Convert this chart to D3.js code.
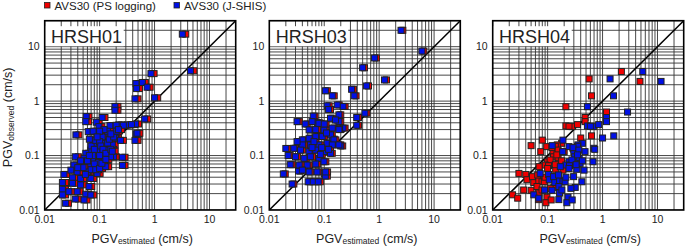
<!DOCTYPE html>
<html><head><meta charset="utf-8">
<script src="https://cdn.jsdelivr.net/npm/d3@7"></script>
<style>
html,body{margin:0;padding:0;background:#fff;}
svg{display:block;font-family:"Liberation Sans",Arial,Helvetica,sans-serif;}
</style></head>
<body>
<svg id="chart" width="685" height="246"></svg>
<script>
// ---- data ----
const stations = ["HRSH01", "HRSH03", "HRSH04"];
const seriesNames = ["AVS30 (PS logging)", "AVS30 (J-SHIS)"];
const seriesColors = ["#f00000", "#0010e6"];
const tickValues = [0.01, 0.1, 1, 10];
const tickLabels = ["0.01", "0.1", "1", "10"];
const axisDomain = [0.01, 30];

// rows: [PGV observed, PGV estimated (PS logging), PGV estimated (J-SHIS)]
const hrsh01 = [
[17,3.7,3.2],[3.6,5.2,4.5],[3.2,0.98,0.86],[2.1,0.52,0.46],[2.2,0.68,0.6],[1.7,0.53,0.47],
[1.8,0.83,0.73],[1.1,0.5,0.44],[1.15,1.14,1.0],[0.8,0.215,0.19],[0.68,0.215,0.19],[0.47,0.75,0.66],
[0.52,0.064,0.057],[0.5,0.125,0.111],[0.24,0.042,0.037],[0.25,0.52,0.46],[0.19,0.5,0.44],[0.41,0.098,0.087],
[0.34,0.11,0.097],[0.355,0.174,0.154],[0.365,0.253,0.224],[0.365,0.36,0.32],[0.38,0.51,0.45],[0.275,0.07,0.062],
[0.257,0.102,0.09],[0.22,0.125,0.111],[0.22,0.167,0.148],[0.21,0.22,0.195],[0.19,0.27,0.24],[0.168,0.089,0.079],
[0.168,0.136,0.12],[0.157,0.192,0.17],[0.126,0.078,0.069],[0.126,0.102,0.09],[0.126,0.156,0.138],[0.11,0.063,0.056],
[0.093,0.29,0.26],[0.066,0.29,0.26],[0.095,0.2,0.18],[0.095,0.041,0.036],[0.089,0.059,0.052],[0.089,0.089,0.079],
[0.083,0.125,0.111],[0.095,0.178,0.158],[0.067,0.038,0.034],[0.067,0.054,0.048],[0.0625,0.078,0.069],[0.067,0.102,0.09],
[0.0625,0.146,0.129],[0.054,0.034,0.03],[0.05,0.044,0.039],[0.05,0.068,0.06],[0.047,0.102,0.09],[0.045,0.025,0.0224],
[0.039,0.036,0.032],[0.038,0.051,0.045],[0.038,0.078,0.069],[0.032,0.024,0.021],[0.031,0.036,0.032],[0.029,0.051,0.045],
[0.027,0.072,0.064],[0.024,0.024,0.021],[0.0217,0.031,0.0276],[0.0217,0.044,0.039],[0.0195,0.063,0.056],[0.0189,0.024,0.021],
[0.0159,0.041,0.036],[0.0153,0.059,0.052],[0.0133,0.027,0.024],[0.0189,0.078,0.069],[0.28,0.086,0.076],[0.42,0.063,0.056],
[0.36,0.3,0.27],[0.36,0.225,0.2],[0.37,0.43,0.38],[0.257,0.54,0.48],[0.2,0.073,0.065],[0.15,0.079,0.07],
[0.13,0.09,0.08],[0.19,0.096,0.085],[0.18,0.113,0.1],[0.15,0.119,0.105],[0.13,0.13,0.115],[0.1,0.136,0.12],
[0.11,0.147,0.13],[0.17,0.158,0.14],[0.2,0.17,0.15],[0.13,0.18,0.16],[0.1,0.113,0.1],[0.075,0.107,0.095],
[0.07,0.09,0.08],[0.1,0.085,0.075],[0.08,0.068,0.06],[0.1,0.073,0.065],[0.055,0.079,0.07],[0.055,0.096,0.085],
[0.058,0.113,0.1],[0.08,0.051,0.045],[0.06,0.057,0.05],[0.06,0.045,0.04],[0.045,0.062,0.055],[0.072,0.124,0.11],
[0.085,0.147,0.13],[0.12,0.192,0.17],[0.22,0.2,0.18],[0.28,0.225,0.2],[0.3,0.25,0.22],[0.28,0.158,0.14],
[0.3,0.136,0.12],[0.28,0.113,0.1],[0.22,0.102,0.09],[0.25,0.18,0.16]
];
const hrsh03 = [
[20,2.7,2.5],[8.3,6.5,6],[6.2,0.89,0.82],[4.1,0.54,0.5],[2.45,1.36,1.25],[1.9,0.64,0.59],
[1.65,0.34,0.315],[1.25,0.38,0.35],[1.55,0.114,0.105],[1.25,0.152,0.14],[0.6,0.6,0.55],[0.5,0.42,0.39],
[0.36,0.42,0.39],[0.42,0.035,0.032],[0.38,0.049,0.045],[0.8,0.24,0.22],[0.85,0.187,0.172],[0.82,0.123,0.113],
[0.7,0.13,0.12],[0.53,0.068,0.063],[0.4,0.081,0.075],[0.32,0.24,0.22],[0.31,0.205,0.19],[0.2,0.152,0.14],
[0.15,0.217,0.2],[0.135,0.0217,0.02],[0.1,0.024,0.022],[0.068,0.026,0.024],[0.046,0.0195,0.018],[0.03,0.028,0.026],
[0.052,0.037,0.034],[0.033,0.055,0.051],[0.033,0.068,0.063],[0.033,0.085,0.078],[0.047,0.109,0.1],[0.042,0.114,0.105],
[0.42,0.065,0.06],[0.39,0.087,0.08],[0.485,0.14,0.13],[0.56,0.2,0.185],[0.42,0.2,0.185],[0.296,0.057,0.053],
[0.3,0.076,0.07],[0.296,0.107,0.099],[0.32,0.152,0.14],[0.3,0.2,0.185],[0.194,0.043,0.04],[0.208,0.057,0.053],
[0.223,0.076,0.07],[0.223,0.1,0.092],[0.24,0.14,0.13],[0.194,0.163,0.15],[0.168,0.123,0.113],[0.157,0.2,0.185],
[0.157,0.152,0.14],[0.157,0.087,0.08],[0.157,0.061,0.056],[0.157,0.043,0.04],[0.18,0.035,0.032],[0.136,0.03,0.028],
[0.126,0.04,0.037],[0.118,0.057,0.053],[0.126,0.076,0.07],[0.118,0.107,0.099],[0.11,0.14,0.13],[0.095,0.0325,0.03],
[0.089,0.047,0.043],[0.095,0.061,0.056],[0.089,0.087,0.08],[0.077,0.107,0.099],[0.067,0.038,0.035],[0.067,0.053,0.049],
[0.07,0.076,0.07],[0.054,0.043,0.04],[0.05,0.057,0.053],[0.05,0.08,0.074],[0.05,0.115,0.106],[0.14,0.097,0.09],
[0.18,0.07,0.065],[0.26,0.12,0.11],[0.45,0.173,0.16],[0.38,0.108,0.1],[0.14,0.065,0.06],[0.105,0.092,0.085],
[0.13,0.13,0.12]
];
const hrsh04 = [
[3.5,2.2,5.4],[2.3,4.8,11.6],[2.56,0.57,1.37],[1.25,0.63,1.58],[0.79,0.215,0.53],[0.63,1.18,2.85],
[0.5,0.48,1.18],[0.42,0.48,1.18],[0.35,0.215,0.53],[0.34,0.28,0.68],[0.37,0.35,0.85],[0.345,0.245,0.6],
[0.21,0.4,1.0],[0.23,0.63,1.6],[0.168,0.18,0.43],[0.152,0.05,0.121],[0.192,0.08,0.19],[0.118,0.075,0.188],
[0.146,0.096,0.245],[0.118,0.125,0.3],[0.157,0.15,0.356],[0.148,0.138,0.35],[0.14,0.12,0.29],[0.126,0.155,0.37],
[0.136,0.29,0.69],[0.118,0.2,0.48],[0.13,0.3,0.72],[0.077,0.28,0.67],[0.095,0.128,0.31],[0.077,0.1,0.245],
[0.089,0.155,0.375],[0.072,0.158,0.39],[0.083,0.111,0.277],[0.067,0.09,0.215],[0.065,0.104,0.25],[0.0625,0.07,0.17],
[0.058,0.1,0.245],[0.056,0.14,0.34],[0.054,0.19,0.46],[0.047,0.03,0.073],[0.045,0.04,0.104],[0.036,0.042,0.107],
[0.032,0.056,0.135],[0.0345,0.069,0.165],[0.033,0.079,0.19],[0.033,0.087,0.208],[0.041,0.053,0.128],[0.044,0.066,0.158],
[0.041,0.124,0.297],[0.033,0.175,0.42],[0.026,0.13,0.318],[0.0233,0.0366,0.088],[0.023,0.05,0.12],[0.027,0.064,0.16],
[0.019,0.023,0.056],[0.0165,0.0285,0.069],[0.0205,0.069,0.165],[0.0172,0.097,0.235],[0.0136,0.093,0.224],[0.0153,0.116,0.28],
[0.025,0.111,0.265],[0.0233,0.079,0.182],[0.04,0.09,0.215],[0.0155,0.068,0.16],[0.103,0.147,0.35],[0.068,0.138,0.33],
[0.08,0.18,0.43]
];
const stationData = [hrsh01, hrsh03, hrsh04];

// ---- layout ----
const svg = d3.select("#chart");
const panelLeft = [44.7, 269.3, 492.7];
const panelTop = 20.7, panelW = 191, panelH = 189.3;
const font = '"Liberation Sans",Arial,Helvetica,sans-serif';

const x = d3.scaleLog().domain(axisDomain).range([0, panelW]);
const y = d3.scaleLog().domain(axisDomain).range([panelH, 0]);

const gridVals = [];
tickValues.forEach(d => { for (let k = 1; k <= 9; k++) { const v = +(k * d).toPrecision(3); if (v <= axisDomain[1]) gridVals.push(v); } });

const markSize = 6;

stations.forEach((name, i) => {
  const g = svg.append("g").attr("transform", `translate(${panelLeft[i]},${panelTop})`);
  const clipId = "clip" + i;
  g.append("clipPath").attr("id", clipId).append("rect").attr("width", panelW).attr("height", panelH);
  const inner = g.append("g").attr("clip-path", `url(#${clipId})`);
  inner.append("rect").attr("width", panelW).attr("height", panelH).attr("fill", "#fff");

  // grid
  inner.selectAll("line.gx").data(gridVals).join("line").attr("class", "gx")
    .attr("x1", d => x(d)).attr("x2", d => x(d)).attr("y1", 0).attr("y2", panelH)
    .attr("stroke", "#333").attr("stroke-width", 0.9);
  inner.selectAll("line.gy").data(gridVals).join("line").attr("class", "gy")
    .attr("y1", d => y(d)).attr("y2", d => y(d)).attr("x1", 0).attr("x2", panelW)
    .attr("stroke", "#333").attr("stroke-width", 0.9);

  // station label with white box
  inner.append("rect").attr("x", 0).attr("y", 5.5).attr("width", 79).attr("height", 20).attr("fill", "#fff");
  inner.append("text").attr("x", 6.4).attr("y", 22.6).attr("font-size", 18).attr("fill", "#222")
    .attr("font-family", font).text(name);

  // 1:1 line
  inner.append("line").attr("x1", x(axisDomain[0])).attr("y1", y(axisDomain[0]))
    .attr("x2", x(axisDomain[1])).attr("y2", y(axisDomain[1]))
    .attr("stroke", "#000").attr("stroke-width", 1.5);

  // points: PS logging (red) first, J-SHIS (blue) on top
  [1, 2].forEach((col, s) => {
    inner.append("g").selectAll("rect").data(stationData[i]).join("rect")
      .attr("x", d => x(d[col]) - markSize / 2).attr("y", d => y(d[0]) - markSize / 2)
      .attr("width", markSize).attr("height", markSize)
      .attr("fill", seriesColors[s]).attr("stroke", "#222").attr("stroke-width", 1);
  });

  // frame
  g.append("rect").attr("width", panelW).attr("height", panelH).attr("fill", "none")
    .attr("stroke", "#000").attr("stroke-width", 1.6);

  // tick labels
  g.selectAll("text.tx").data(tickValues).join("text").attr("class", "tx")
    .attr("x", d => x(d)).attr("y", panelH + 13.5).attr("text-anchor", "middle")
    .attr("font-size", 10.5).attr("font-family", font).attr("fill", "#222")
    .text((d, k) => tickLabels[k]);
  g.selectAll("text.ty").data(tickValues).join("text").attr("class", "ty")
    .attr("x", -5).attr("y", d => y(d) + 3.8).attr("text-anchor", "end")
    .attr("font-size", 10.5).attr("font-family", font).attr("fill", "#222")
    .text((d, k) => tickLabels[k]);

  // x axis title
  const xt = svg.append("text").attr("x", panelLeft[i] + panelW / 2 + 2).attr("y", 242.5)
    .attr("text-anchor", "middle").attr("font-size", 12.5).attr("font-family", font).attr("fill", "#222");
  xt.append("tspan").text("PGV");
  xt.append("tspan").attr("font-size", 8.5).attr("dy", 1.5).text("estimated");
  xt.append("tspan").attr("dy", -1.5).text(" (cm/s)");
});

// y axis title
const yt = svg.append("text").attr("transform", `translate(12,${panelTop + panelH / 2 + 2}) rotate(-90)`)
  .attr("text-anchor", "middle").attr("font-size", 12.5).attr("font-family", font).attr("fill", "#222");
yt.append("tspan").text("PGV");
yt.append("tspan").attr("font-size", 8.5).attr("dy", 1.5).text("observed");
yt.append("tspan").attr("dy", -1.5).text(" (cm/s)");

// legend
const legendX = [44.5, 174];
seriesNames.forEach((n, s) => {
  svg.append("rect").attr("x", legendX[s]).attr("y", 2.5).attr("width", 5.5).attr("height", 5.5)
    .attr("fill", seriesColors[s]).attr("stroke", "#222").attr("stroke-width", 0.8);
  svg.append("text").attr("x", legendX[s] + 10).attr("y", 9.6).attr("font-size", 11.5)
    .attr("font-family", font).attr("fill", "#222").text(n);
});
</script>
</body></html>
